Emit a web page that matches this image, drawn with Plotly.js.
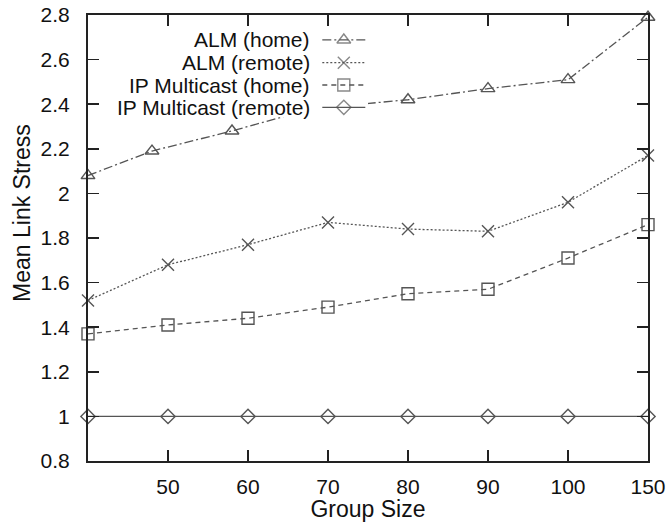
<!DOCTYPE html>
<html>
<head>
<meta charset="utf-8">
<script src="https://cdn.plot.ly/plotly-3.0.1.min.js"></script>
<style>html,body{margin:0;padding:0;background:#fff;}#chart{width:666px;height:522px;}</style>
</head>
<body>
<div id="chart"></div>
<script>
// ---- data ----
var seriesNames = ['ALM (home)', 'ALM (remote)', 'IP Multicast (home)', 'IP Multicast (remote)'];
var groupSizes = [40, 50, 60, 70, 80, 90, 100, 150];
var almHomeSizes = [40, 48, 58, 68, 80, 90, 100, 150];
var almHome = [2.08, 2.19, 2.28, 2.38, 2.42, 2.47, 2.51, 2.79];
var almRemote = [1.52, 1.68, 1.77, 1.87, 1.84, 1.83, 1.96, 2.17];
var ipHome = [1.37, 1.41, 1.44, 1.49, 1.55, 1.57, 1.71, 1.86];
var ipRemote = [1, 1, 1, 1, 1, 1, 1, 1];
var xTickLabels = ['50', '60', '70', '80', '90', '100', '150'];
var xTickValues = [50, 60, 70, 80, 90, 100, 150];

// axis is broken-linear: 40..100 evenly, then 150 takes one step
function pos(v) { return v <= 100 ? v : 100 + (v - 100) / 5; }

var FONT = 'Liberation Sans, Arial, sans-serif';
var LC = '#555';
var styles = [
  {dash: '9px,3px,2px,3px', symbol: 'triangle-up-open', size: 12},
  {dash: '2px,2px', symbol: 'x-thin-open', size: 12},
  {dash: '5px,4px', symbol: 'square-open', size: 12},
  {dash: 'solid', symbol: 'diamond-open', size: 11}
];
var xs = [almHomeSizes, groupSizes, groupSizes, groupSizes];
var ys = [almHome, almRemote, ipHome, ipRemote];

var traces = [];
for (var i = 0; i < 4; i++) {
  traces.push({
    type: 'scatter', mode: 'lines+markers', name: seriesNames[i],
    x: xs[i].map(pos), y: ys[i], cliponaxis: false,
    line: {color: LC, width: 1.3, dash: styles[i].dash},
    marker: {symbol: styles[i].symbol, size: styles[i].size, color: LC, line: {color: LC, width: 1.4}},
    showlegend: false, xaxis: 'x', yaxis: 'y'
  });
}
// custom legend (text left, sample right) drawn in an inset subplot
var annotations = [];
var rowY = [0.865, 0.61, 0.36, 0.11];
for (var j = 0; j < 4; j++) {
  traces.push({
    type: 'scatter', mode: 'lines+markers', x: [0.83, 0.91, 0.99], y: [rowY[j], rowY[j], rowY[j]],
    line: {color: LC, width: 1.3, dash: styles[j].dash},
    marker: {symbol: styles[j].symbol, size: [0, styles[j].size, 0], color: LC, line: {color: LC, width: 1.4}},
    showlegend: false, hoverinfo: 'skip', xaxis: 'x2', yaxis: 'y2'
  });
  annotations.push({
    xref: 'x2', yref: 'y2', x: 0.79, y: rowY[j], xanchor: 'right', yanchor: 'middle',
    text: seriesNames[j], showarrow: false, font: {family: FONT, size: 21, color: '#111'}
  });
}
annotations.push({
  xref: 'paper', yref: 'paper', x: -0.118, y: 0.556, xanchor: 'center', yanchor: 'middle',
  textangle: -90, text: 'Mean Link Stress', showarrow: false, font: {family: FONT, size: 23, color: '#111'}
});

var layout = {
  width: 666, height: 522,
  margin: {l: 88, r: 18, t: 15, b: 61},
  paper_bgcolor: '#fff', plot_bgcolor: '#fff',
  font: {family: FONT, size: 21, color: '#111'},
  xaxis: {
    range: [40, 110], tickmode: 'array', tickvals: xTickValues.map(pos), ticktext: xTickLabels,
    ticks: 'inside', ticklen: 11, tickwidth: 1.5, tickcolor: '#222',
    showline: true, linecolor: '#222', linewidth: 2, mirror: 'ticks',
    showgrid: false, zeroline: false, ticklabelstandoff: 6,
    title: {text: 'Group Size', font: {family: FONT, size: 23, color: '#111'}, standoff: 2}
  },
  yaxis: {
    range: [0.8, 2.8], dtick: 0.2, tick0: 0.8,
    ticks: 'inside', ticklen: 11, tickwidth: 1.5, tickcolor: '#222',
    showline: true, linecolor: '#222', linewidth: 2, mirror: 'ticks',
    showgrid: false, zeroline: false, ticklabelstandoff: 12
  },
  xaxis2: {domain: [0.02, 0.5], range: [0, 1], visible: false, fixedrange: true, anchor: 'y2'},
  yaxis2: {domain: [0.771, 0.971], range: [0, 1], visible: false, fixedrange: true, anchor: 'x2'},
  annotations: annotations,
  showlegend: false
};

Plotly.newPlot('chart', traces, layout, {displayModeBar: false, staticPlot: true});
</script>
</body>
</html>
